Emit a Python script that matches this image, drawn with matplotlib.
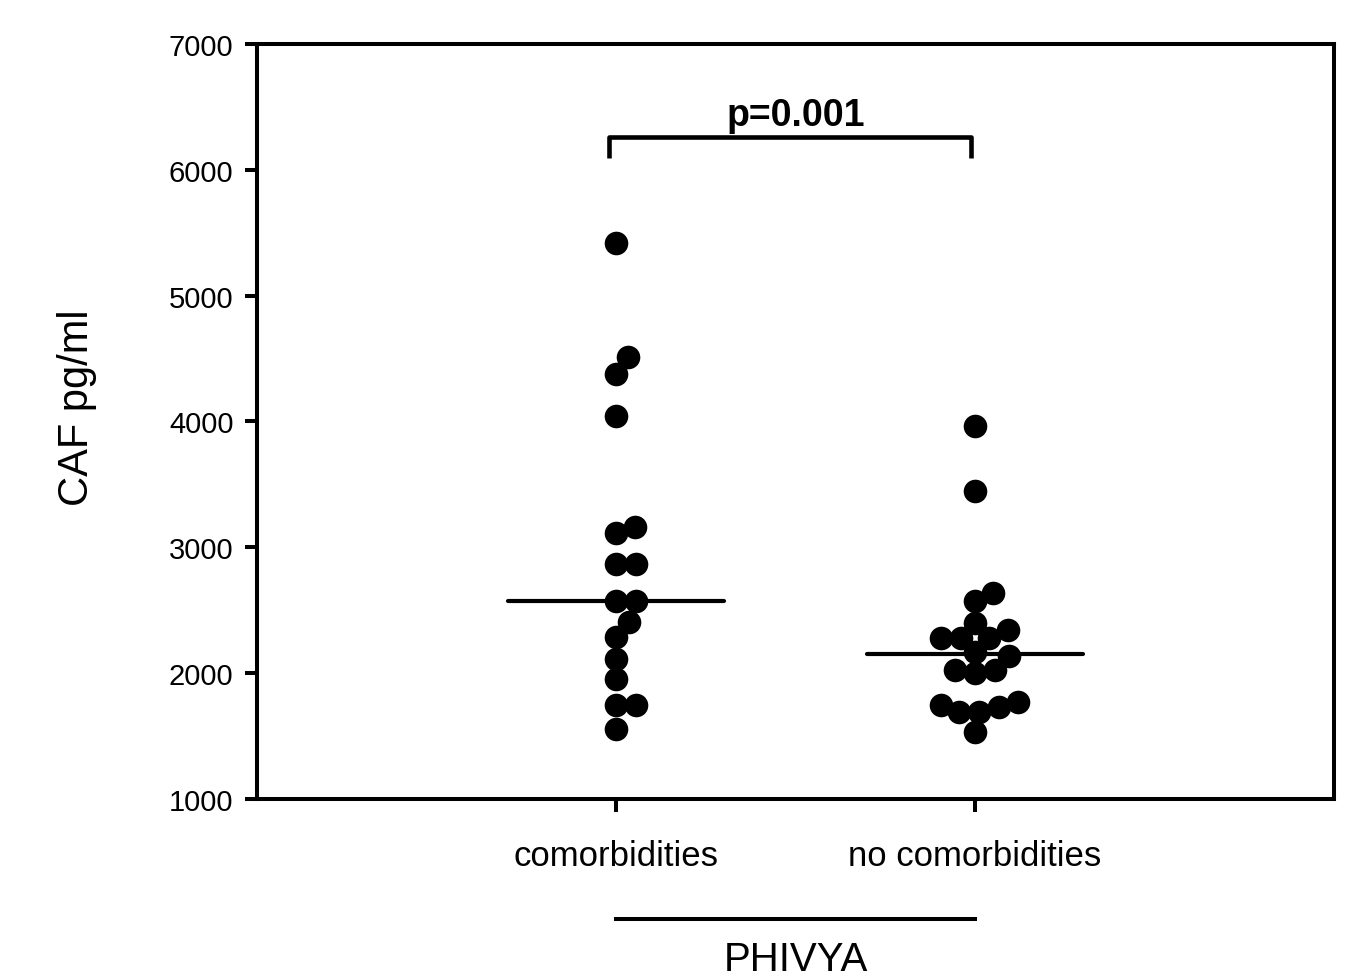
import numpy as np
import matplotlib
matplotlib.use("Agg")
import matplotlib.pyplot as plt

plt.rcParams['font.family'] = ['Liberation Sans', 'DejaVu Sans']

# values (CAF, pg/ml)
categories = ["comorbidities", "no comorbidities"]
caf_comorb = [5420, 4510, 4380, 4040, 3160, 3110, 2870, 2870, 2570, 2570,
              2410, 2290, 2110, 1950, 1750, 1750, 1560]
caf_no_comorb = [3965, 3450, 2640, 2570, 2400, 2280, 2280, 2280, 2345, 2170,
                 2140, 2025, 2025, 2000, 1690, 1745, 1770, 1690, 1730, 1535]
p_text = "p=0.001"
group_label = "PHIVYA"

fig = plt.figure(figsize=(13.57, 9.78), dpi=100)
ax = fig.add_axes([0.1894, 0.182, 0.7937, 0.772])
ax.set_xlim(0, 3)
ax.set_ylim(1000, 7000)


def swarm(values, d_px):
    # simple beeswarm layout in pixel space
    xpx = ax.transData.transform([[0, 0], [1, 0]])
    ypx = ax.transData.transform([[0, 0], [0, 1]])
    sx = xpx[1, 0] - xpx[0, 0]
    sy = ypx[1, 1] - ypx[0, 1]
    ys = np.asarray(values, float) * sy
    xs = np.zeros(len(ys))
    placed = []
    for i in np.argsort(ys):
        y = ys[i]
        cands = [0.0]
        for xj, yj in placed:
            dy = y - yj
            if abs(dy) < d_px:
                dx = np.sqrt(d_px ** 2 - dy ** 2)
                cands += [xj + dx, xj - dx]
        cands.sort(key=abs)
        for c in cands:
            if all((c - xj) ** 2 + (y - yj) ** 2 >= d_px ** 2 - 1e-6
                   for xj, yj in placed):
                xs[i] = c
                break
        placed.append((xs[i], y))
    return xs / sx


for pos, vals in zip([1, 2], [caf_comorb, caf_no_comorb]):
    off = swarm(vals, 20)
    ax.plot(pos + off, vals, "o", color="black", markersize=17,
            markeredgewidth=0, clip_on=False, zorder=3)
    med = np.median(vals)
    ax.plot([pos - 0.3, pos + 0.3], [med, med], color="black", lw=3,
            solid_capstyle="round", zorder=2)

# significance bracket
ax.plot([0.98, 0.98, 1.99, 1.99], [6090, 6260, 6260, 6090], color="black",
        lw=3.3, solid_capstyle="butt")
ax.text(1.5, 6290, p_text, ha="center", va="bottom", fontsize=27,
        fontweight="bold")

ax.set_xticks([1, 2])
ax.set_xticklabels(categories, fontsize=25)
ax.set_yticks(range(1000, 7001, 1000))
ax.tick_params(axis="y", labelsize=21, length=9, width=2.9, pad=8)
ax.tick_params(axis="x", length=9, width=2.9, pad=20)
ax.tick_params(top=False, right=False)
for sp in ax.spines.values():
    sp.set_linewidth(2.9)

ax.set_ylabel("CAF pg/ml", fontsize=30)
ax.yaxis.set_label_coords(-0.1486, 0.52)

# group line and label under the categories
tr = ax.get_xaxis_transform()
ax.plot([1.0, 2.0], [-0.159, -0.159], color="black", lw=2.9,
        transform=tr, clip_on=False)
ax.text(1.5, -0.226, group_label, transform=tr, ha="center", va="baseline",
        fontsize=29)

fig.savefig("out.png", dpi=100)
